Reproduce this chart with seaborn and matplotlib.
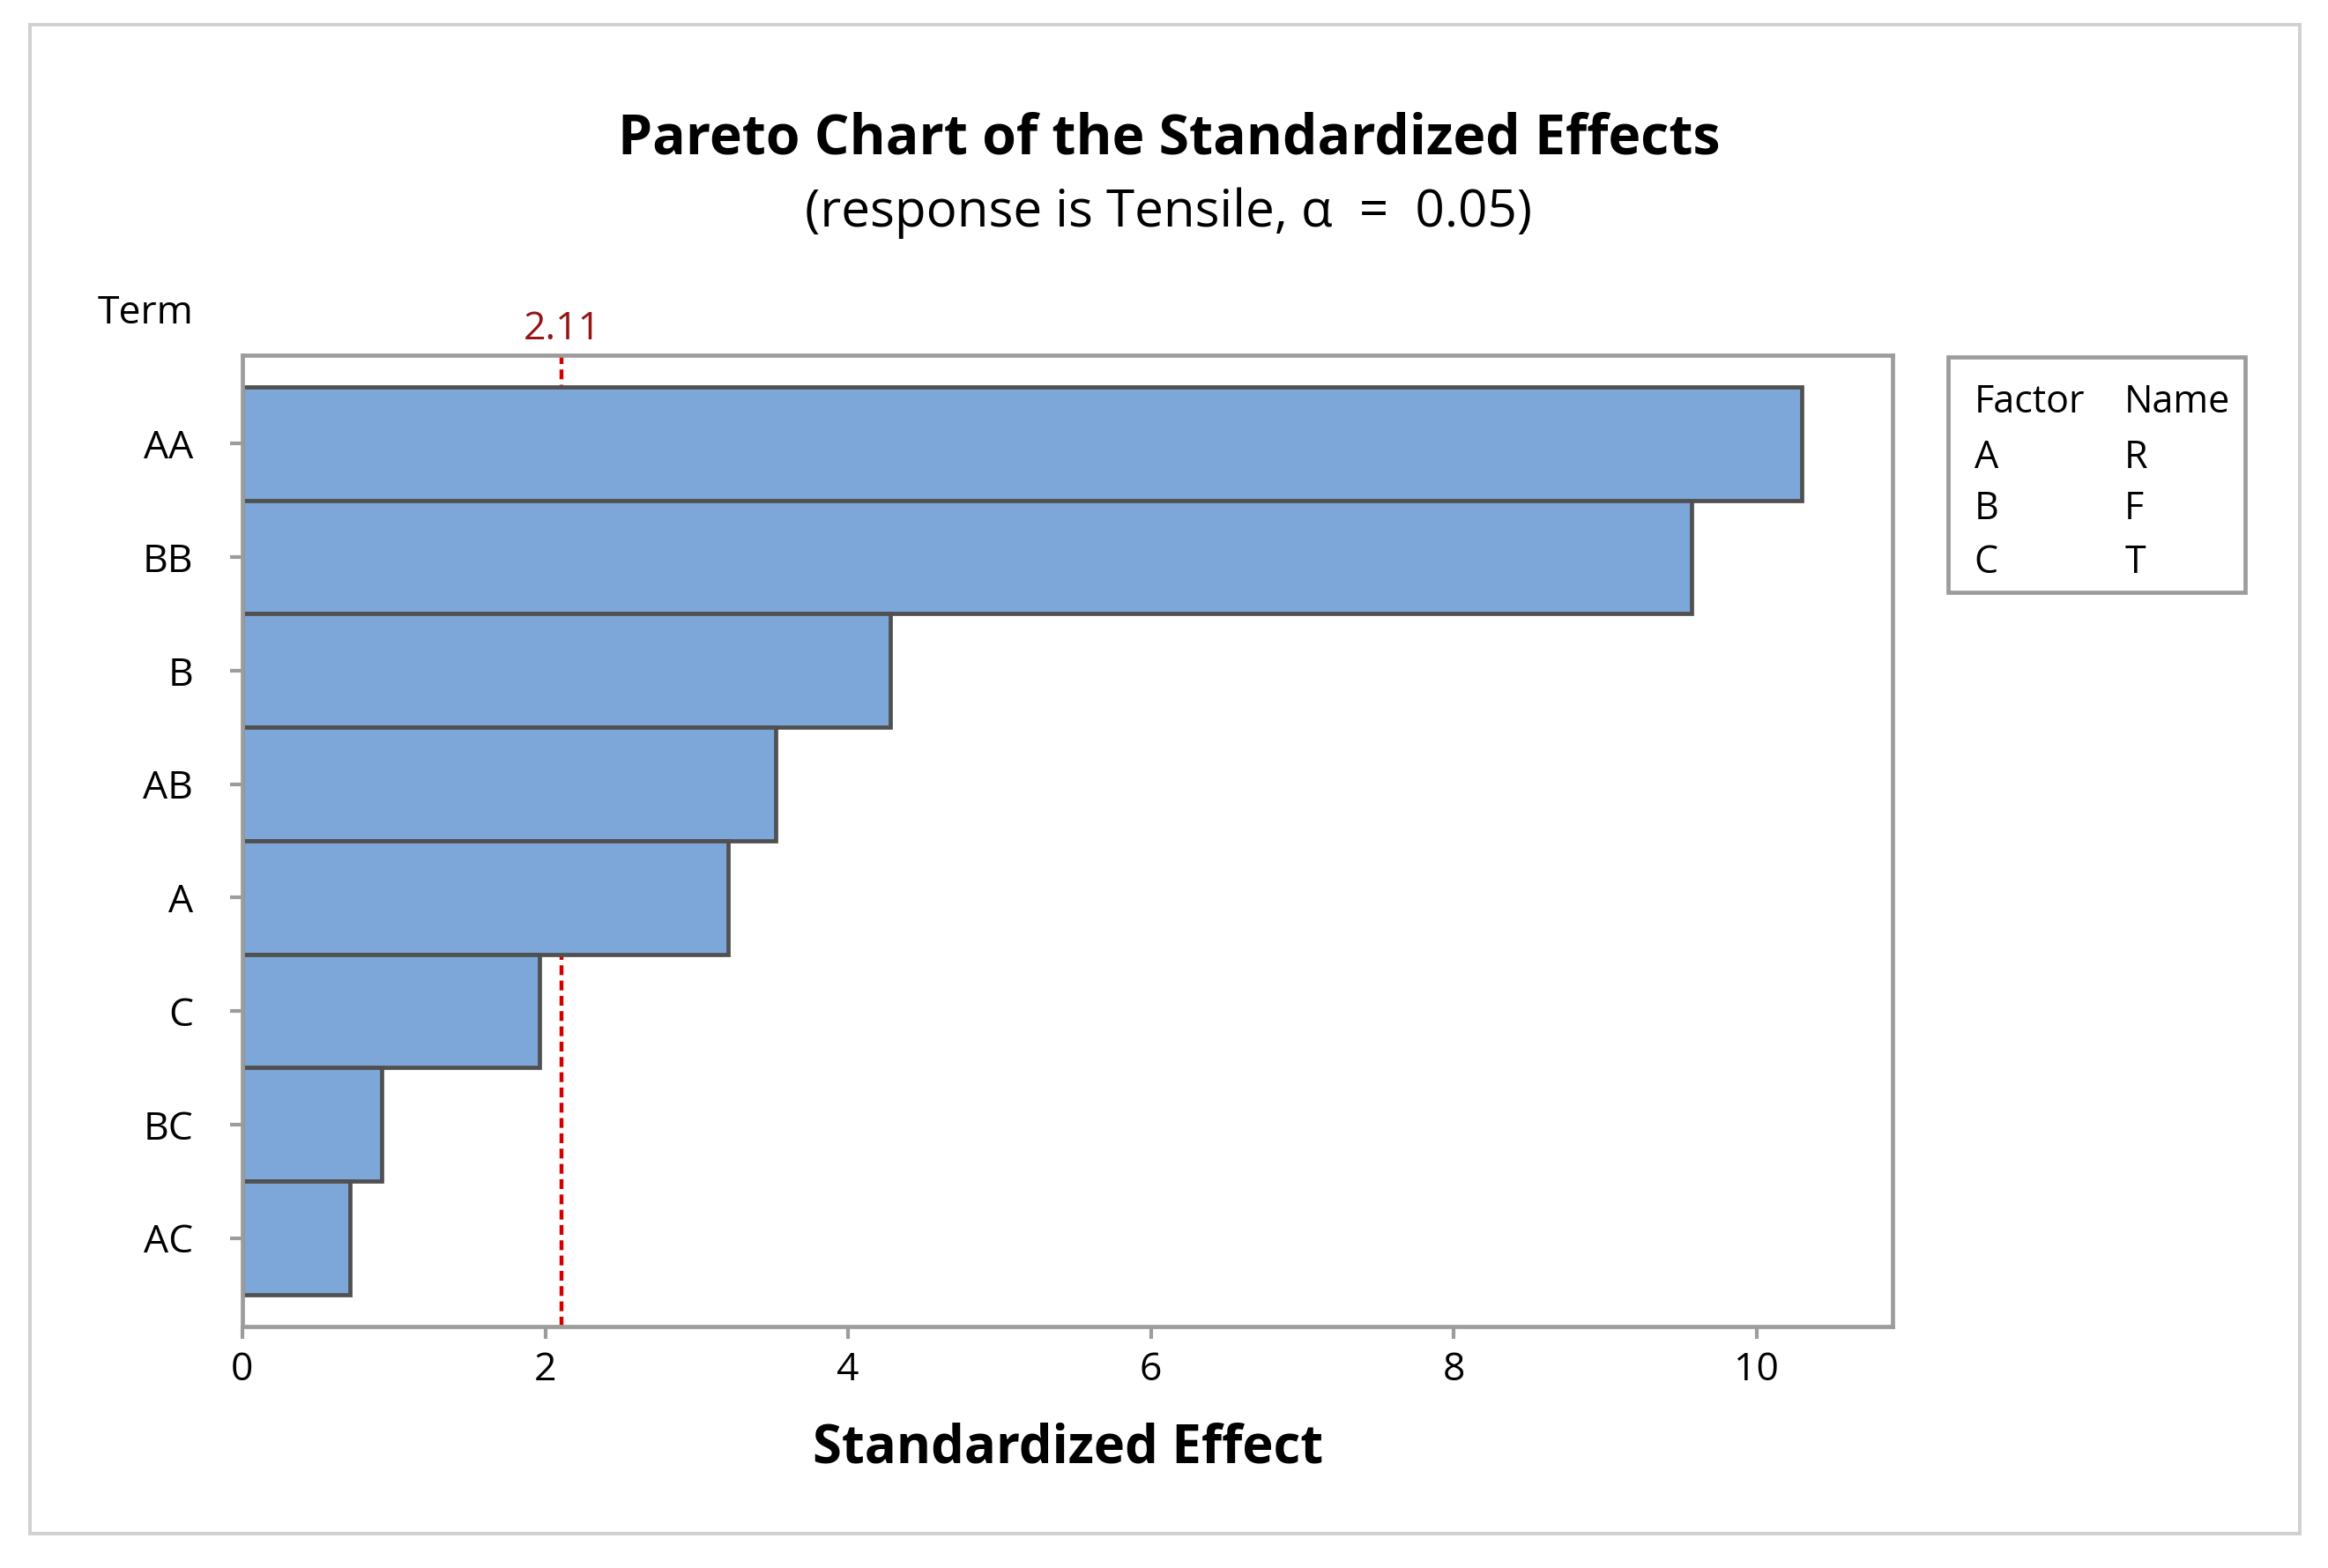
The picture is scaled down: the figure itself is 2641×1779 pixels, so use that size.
import numpy as np
import pandas as pd
import matplotlib
matplotlib.use('Agg')
import matplotlib.pyplot as plt
from matplotlib.patches import Rectangle
import seaborn as sns

# dati
terms = ['AA', 'BB', 'B', 'AB', 'A', 'C', 'BC', 'AC']
effects = [10.30, 9.57, 4.28, 3.52, 3.21, 1.96, 0.92, 0.71]
critical = 2.11
factors = ['A', 'B', 'C']
names = ['R', 'F', 'T']
xticks = [0, 2, 4, 6, 8, 10]

sns.set_theme(style='white')
plt.rcParams['font.family'] = ['Open Sans', 'DejaVu Sans']
plt.rcParams['text.color'] = 'black'
plt.rcParams['axes.labelcolor'] = 'black'

df = pd.DataFrame({'term': terms, 'effect': effects})

fig = plt.figure(figsize=(13.205, 8.895), dpi=200)
ax = fig.add_axes([0.1041, 0.154, 0.709, 0.6195])

sns.barplot(data=df, x='effect', y='term', orient='h', width=1.0,
            color='#7da7d9', saturation=1, edgecolor='#505050',
            linewidth=1.7, ax=ax, zorder=2)

ax.set_xlim(0, 10.9)
ax.set_ylim(7.5 + 0.28, -0.5 - 0.28)
ax.set_xticks(xticks)
ax.set_xticklabels([str(t) for t in xticks])

# linea critica (dietro le barre)
ax.axvline(critical, color='#d40000', linestyle=(0, (2.5, 1.4)), linewidth=1.6, zorder=1)
ax.text(critical, 1.016, f'{critical:.2f}', transform=ax.get_xaxis_transform(),
        ha='center', va='baseline', color='#961414', fontsize=16)

for s in ax.spines.values():
    s.set_color('#9c9c9c')
    s.set_linewidth(1.7)

ax.tick_params(axis='both', colors='#9c9c9c', labelcolor='black', labelsize=16)
ax.tick_params(axis='x', length=5, width=1.5, direction='out', bottom=True, pad=5)
ax.tick_params(axis='y', length=5, width=1.5, direction='out', left=True, pad=15)

ax.set_xlabel('Standardized Effect', fontsize=21.5, fontweight='bold', labelpad=13)
ax.set_ylabel('')

fig.text(0.502, 0.911, 'Pareto Chart of the Standardized Effects',
         ha='center', va='center', fontsize=22.5, fontweight='bold')
fig.text(0.502, 0.864, '(response is Tensile, α  =  0.05)',
         ha='center', va='center', fontsize=21)
fig.text(0.083, 0.800, 'Term', ha='right', va='center', fontsize=16)

# riquadro legenda fattori
fig.patches.append(Rectangle((0.8368, 0.6225), 0.1276, 0.1500, transform=fig.transFigure,
                             fill=False, edgecolor='#9c9c9c', linewidth=1.7))
fig.text(0.848, 0.7435, 'Factor', va='center', fontsize=15.5)
fig.text(0.9126, 0.7435, 'Name', va='center', fontsize=15.5)
rows_y = [0.708, 0.675, 0.641]
for f, n, y in zip(factors, names, rows_y):
    fig.text(0.848, y, f, va='center', fontsize=15.5)
    fig.text(0.9126, y, n, va='center', fontsize=15.5)

# bordo esterno
fig.patches.append(Rectangle((0.0128, 0.022), 0.9752, 0.962, transform=fig.transFigure,
                             fill=False, edgecolor='#d0d0d0', linewidth=1.4))

fig.savefig('out.png', dpi=200)
